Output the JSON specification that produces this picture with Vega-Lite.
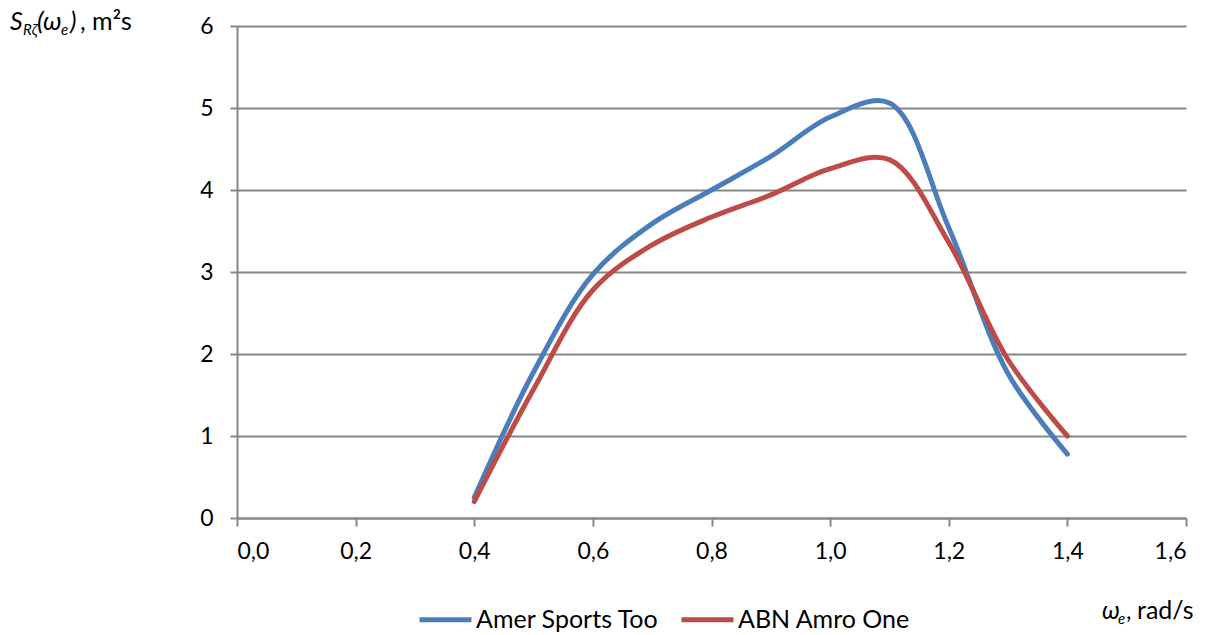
{
  "$schema": "https://vega.github.io/schema/vega-lite/v6.json",
  "width": 949,
  "height": 492,
  "autosize": "none",
  "padding": {"left": 237, "top": 26, "right": 35, "bottom": 117},
  "background": "white",
  "config": {
    "view": {"stroke": null},
    "font": "Lato",
    "axis": {"labelFont": "Lato", "titleFont": "Lato"},
    "text": {"font": "Lato", "color": "#000000", "align": "left", "baseline": "alphabetic"}
  },
  "datasets": {
    "curves": [
      {"w": 0.4, "S": 0.25, "ship": "Amer Sports Too"},
      {"w": 0.5, "S": 1.78, "ship": "Amer Sports Too"},
      {"w": 0.6, "S": 2.97, "ship": "Amer Sports Too"},
      {"w": 0.7, "S": 3.59, "ship": "Amer Sports Too"},
      {"w": 0.8, "S": 4.0, "ship": "Amer Sports Too"},
      {"w": 0.9, "S": 4.41, "ship": "Amer Sports Too"},
      {"w": 1.0, "S": 4.89, "ship": "Amer Sports Too"},
      {"w": 1.1, "S": 5.06, "ship": "Amer Sports Too"},
      {"w": 1.2, "S": 3.54, "ship": "Amer Sports Too"},
      {"w": 1.3, "S": 1.76, "ship": "Amer Sports Too"},
      {"w": 1.4, "S": 0.78, "ship": "Amer Sports Too"},
      {"w": 0.4, "S": 0.2, "ship": "ABN Amro One"},
      {"w": 0.5, "S": 1.57, "ship": "ABN Amro One"},
      {"w": 0.6, "S": 2.78, "ship": "ABN Amro One"},
      {"w": 0.7, "S": 3.33, "ship": "ABN Amro One"},
      {"w": 0.8, "S": 3.67, "ship": "ABN Amro One"},
      {"w": 0.9, "S": 3.94, "ship": "ABN Amro One"},
      {"w": 1.0, "S": 4.26, "ship": "ABN Amro One"},
      {"w": 1.1, "S": 4.37, "ship": "ABN Amro One"},
      {"w": 1.2, "S": 3.36, "ship": "ABN Amro One"},
      {"w": 1.3, "S": 1.93, "ship": "ABN Amro One"},
      {"w": 1.4, "S": 1.0, "ship": "ABN Amro One"}
    ]
  },
  "layer": [
    {
      "data": {"name": "curves"},
      "mark": {"type": "line", "interpolate": "catmull-rom", "strokeWidth": 5, "strokeCap": "round", "strokeJoin": "round"},
      "encoding": {
        "x": {
          "field": "w", "type": "quantitative",
          "scale": {"domain": [0, 1.6], "nice": false, "zero": false},
          "axis": {
            "values": [0, 0.2, 0.4, 0.6, 0.8, 1.0, 1.2, 1.4, 1.6],
            "labelExpr": "replace(format(datum.value, '.1f'), '.', ',')",
            "grid": false,
            "domainColor": "#868686", "domainWidth": 2,
            "tickColor": "#868686", "tickWidth": 2, "tickSize": 8,
            "labelFontSize": 23, "labelColor": "#000000", "labelPadding": 14,
            "title": null
          }
        },
        "y": {
          "field": "S", "type": "quantitative",
          "scale": {"domain": [0, 6], "nice": false},
          "axis": {
            "values": [0, 1, 2, 3, 4, 5, 6],
            "format": "d",
            "grid": true, "gridColor": "#868686", "gridWidth": 2,
            "domainColor": "#868686", "domainWidth": 2,
            "tickColor": "#868686", "tickWidth": 2, "tickSize": 7,
            "labelFontSize": 23, "labelColor": "#000000", "labelPadding": 17,
            "title": null
          }
        },
        "color": {
          "field": "ship", "type": "nominal",
          "scale": {"domain": ["Amer Sports Too", "ABN Amro One"], "range": ["#4A7EBB", "#BE4B48"]},
          "legend": {
            "title": null, "orient": "none", "direction": "horizontal",
            "legendX": 180, "legendY": 565,
            "symbolType": "stroke", "symbolSize": 2700, "symbolStrokeWidth": 5,
            "labelFontSize": 25, "labelColor": "#000000", "labelOffset": 2, "labelLimit": 400,
            "columnPadding": 12, "symbolOffset": 0
          }
        }
      }
    },
    {
      "data": {"values": [{}]},
      "mark": {"type": "text", "text": "S", "fontSize": 25, "fontStyle": "italic", "dx": -227, "dy": 4, "clip": false},
      "encoding": {"x": {"datum": 0}, "y": {"datum": 6}}
    },
    {
      "data": {"values": [{}]},
      "mark": {"type": "text", "text": "Rζ", "fontSize": 15, "fontStyle": "italic", "dx": -214, "dy": 9, "clip": false},
      "encoding": {"x": {"datum": 0}, "y": {"datum": 6}}
    },
    {
      "data": {"values": [{}]},
      "mark": {"type": "text", "text": "(ω", "fontSize": 26, "fontStyle": "italic", "dx": -200, "dy": 4, "clip": false},
      "encoding": {"x": {"datum": 0}, "y": {"datum": 6}}
    },
    {
      "data": {"values": [{}]},
      "mark": {"type": "text", "text": "e", "fontSize": 15, "fontStyle": "italic", "dx": -176, "dy": 9, "clip": false},
      "encoding": {"x": {"datum": 0}, "y": {"datum": 6}}
    },
    {
      "data": {"values": [{}]},
      "mark": {"type": "text", "text": ")", "fontSize": 25, "fontStyle": "italic", "dx": -167, "dy": 4, "clip": false},
      "encoding": {"x": {"datum": 0}, "y": {"datum": 6}}
    },
    {
      "data": {"values": [{}]},
      "mark": {"type": "text", "text": ", m²s", "fontSize": 25, "dx": -157, "dy": 4, "clip": false},
      "encoding": {"x": {"datum": 0}, "y": {"datum": 6}}
    },
    {
      "data": {"values": [{}]},
      "mark": {"type": "text", "text": "ω", "fontSize": 25, "fontStyle": "italic", "dx": -84, "dy": 101, "clip": false},
      "encoding": {"x": {"datum": 1.6}, "y": {"datum": 0}}
    },
    {
      "data": {"values": [{}]},
      "mark": {"type": "text", "text": "e", "fontSize": 15, "fontStyle": "italic", "dx": -68, "dy": 106, "clip": false},
      "encoding": {"x": {"datum": 1.6}, "y": {"datum": 0}}
    },
    {
      "data": {"values": [{}]},
      "mark": {"type": "text", "text": ",", "fontSize": 24, "dx": -60, "dy": 101, "clip": false},
      "encoding": {"x": {"datum": 1.6}, "y": {"datum": 0}}
    },
    {
      "data": {"values": [{}]},
      "mark": {"type": "text", "text": "rad/s", "fontSize": 25, "dx": -49, "dy": 101, "clip": false},
      "encoding": {"x": {"datum": 1.6}, "y": {"datum": 0}}
    }
  ]
}
